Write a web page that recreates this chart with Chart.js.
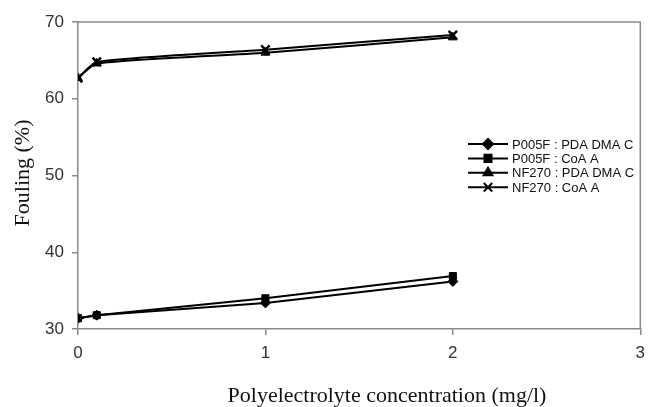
<!DOCTYPE html>
<html>
<head>
<meta charset="utf-8">
<script src="https://cdn.jsdelivr.net/npm/chart.js@4/dist/chart.umd.min.js"></script>
<style>
  html, body { margin: 0; padding: 0; background: #fff; }
  #wrap { width: 653px; height: 407px; }
</style>
</head>
<body>
<div id="wrap"><canvas id="foulingChart"></canvas></div>
<script>
// concentrations (mg/l)
const conc = [0, 0.1, 1, 2];
const seriesNames = ['P005F : PDA DMA C', 'P005F : CoA A', 'NF270 : PDA DMA C', 'NF270 : CoA A'];
const p005fPdadmac = [31.4, 31.8, 33.4, 36.2];
const p005fCoaa = [31.4, 31.8, 34.0, 36.9];
const nf270Pdadmac = [62.7, 64.6, 66.0, 68.0];
const nf270Coaa = [62.7, 64.8, 66.4, 68.3];
const xTicks = [0, 1, 2, 3];
const yTicks = [30, 40, 50, 60, 70];

const pts = vals => conc.map((c, i) => ({ x: c, y: vals[i] }));
const markers = ['rectRot', 'rect', 'triangle', 'crossRot'];
const radii = [5, 5, 5, 6];

function mkSet(i, vals, tension) {
    return {
        label: seriesNames[i],
        data: pts(vals),
        borderColor: '#000',
        backgroundColor: '#000',
        borderWidth: 2,
        pointStyle: markers[i],
        pointRadius: radii[i],
        pointBorderWidth: i === 3 ? 2.5 : 1,
        tension: tension,
        fill: false
    };
}

// axis titles, frame and the legend inside the plot
const extras = {
    id: 'extras',
    afterDraw(chart) {
        const ctx = chart.ctx;
        const a = chart.chartArea;
        ctx.save();
        ctx.strokeStyle = '#8a8a8a';
        ctx.lineWidth = 1.5;
        ctx.beginPath();
        ctx.moveTo(a.left, a.top);
        ctx.lineTo(a.right, a.top);
        ctx.lineTo(a.right, a.bottom);
        ctx.stroke();

        ctx.fillStyle = '#111';
        ctx.font = '22px "Liberation Serif", "Times New Roman", serif';
        ctx.textAlign = 'center';
        ctx.textBaseline = 'middle';
        ctx.fillText('Polyelectrolyte concentration (mg/l)', 387, 396);
        ctx.translate(23, 173);
        ctx.rotate(-Math.PI / 2);
        ctx.fillText('Fouling (%)', 0, 0);
        ctx.restore();

        // legend
        ctx.save();
        ctx.font = '13px "Liberation Sans", Arial, sans-serif';
        ctx.textBaseline = 'middle';
        ctx.textAlign = 'left';
        chart.data.datasets.forEach((ds, i) => {
            const y = 144 + i * 14.4;
            ctx.strokeStyle = '#000';
            ctx.lineWidth = 2;
            ctx.beginPath();
            ctx.moveTo(468, y);
            ctx.lineTo(508, y);
            ctx.stroke();
            Chart.helpers.drawPoint(ctx, {
                pointStyle: ds.pointStyle,
                radius: ds.pointRadius,
                borderWidth: ds.pointBorderWidth,
                rotation: 0
            }, 488, y);
            ctx.fillStyle = '#000';
            ctx.fill();
            ctx.fillStyle = '#111';
            ctx.fillText(ds.label, 512, y + 1);
        });
        ctx.restore();
    }
};

const fch = document.getElementById('foulingChart').getContext('2d');
const foulingChart = new Chart(fch, {
    type: 'line',
    data: {
        datasets: [
            mkSet(0, p005fPdadmac, 0),
            mkSet(1, p005fCoaa, 0),
            mkSet(2, nf270Pdadmac, 0.2),
            mkSet(3, nf270Coaa, 0.2)
        ]
    },
    options: {
        responsive: true,
        maintainAspectRatio: false,
        animation: false,
        layout: { padding: { top: 22, right: 6, left: 0, bottom: 0 } },
        plugins: {
            legend: { display: false },
            tooltip: { enabled: false }
        },
        scales: {
            x: {
                type: 'linear',
                min: 0,
                max: 3,
                afterBuildTicks: s => { s.ticks = xTicks.map(v => ({ value: v })); },
                afterFit: s => { s.height = 78; },
                grid: { drawOnChartArea: false, drawTicks: true, tickLength: 6, color: '#8a8a8a', lineWidth: 1.5 },
                border: { color: '#8a8a8a', width: 1.5 },
                ticks: { color: '#333', padding: 8, font: { family: '"Liberation Sans", Arial, sans-serif', size: 17 } }
            },
            y: {
                min: 30,
                max: 70,
                afterBuildTicks: s => { s.ticks = yTicks.map(v => ({ value: v })); },
                afterFit: s => { s.width = 78; },
                grid: { drawOnChartArea: false, drawTicks: true, tickLength: 6, color: '#8a8a8a', lineWidth: 1.5 },
                border: { color: '#8a8a8a', width: 1.5 },
                ticks: { color: '#333', padding: 8, font: { family: '"Liberation Sans", Arial, sans-serif', size: 17 } }
            }
        }
    },
    plugins: [extras]
});
</script>
</body>
</html>
